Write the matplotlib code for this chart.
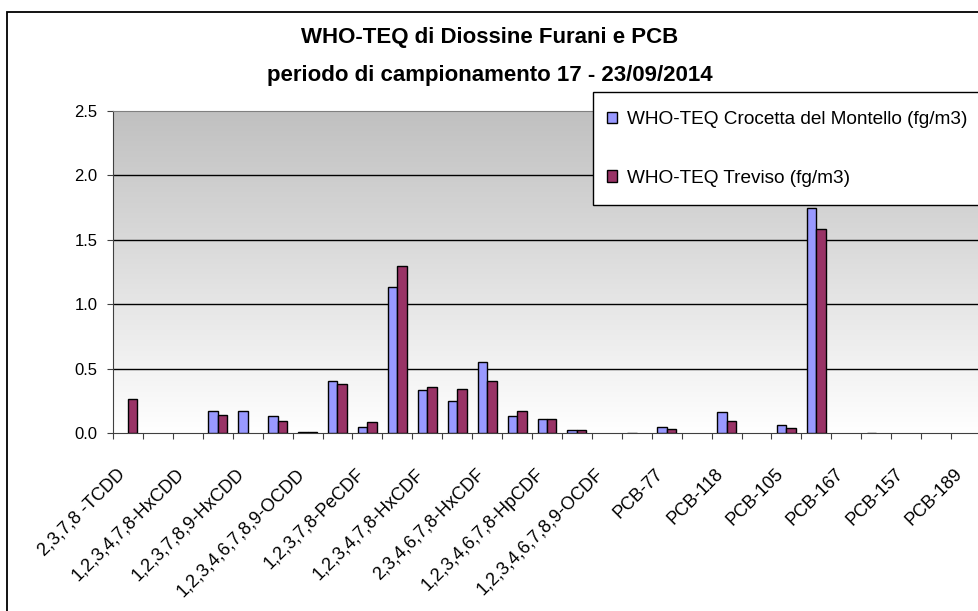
import numpy as np
import matplotlib
matplotlib.use('Agg')
import matplotlib.pyplot as plt
from matplotlib.colors import LinearSegmentedColormap
from matplotlib.patches import Rectangle
from matplotlib.transforms import ScaledTranslation

plt.rcParams['font.family'] = ['Liberation Sans', 'DejaVu Sans']

# congeneri (29), in Excel solo una etichetta su due e' visibile
congeners = ['2,3,7,8 -TCDD', '1,2,3,7,8-PeCDD', '1,2,3,4,7,8-HxCDD', '1,2,3,6,7,8-HxCDD',
             '1,2,3,7,8,9-HxCDD', '1,2,3,4,6,7,8-HpCDD', '1,2,3,4,6,7,8,9-OCDD',
             '2,3,7,8-TCDF', '1,2,3,7,8-PeCDF', '2,3,4,7,8-PeCDF', '1,2,3,4,7,8-HxCDF',
             '1,2,3,6,7,8-HxCDF', '2,3,4,6,7,8-HxCDF', '1,2,3,7,8,9-HxCDF',
             '1,2,3,4,6,7,8-HpCDF', '1,2,3,4,7,8,9-HpCDF', '1,2,3,4,6,7,8,9-OCDF',
             'PCB-81', 'PCB-77', 'PCB-123', 'PCB-118', 'PCB-114', 'PCB-105', 'PCB-126',
             'PCB-167', 'PCB-156', 'PCB-157', 'PCB-169', 'PCB-189']

nan = np.nan
crocetta = [nan, nan, nan, 0.17, 0.17, 0.134, 0.012, 0.406, 0.05, 1.134,
            0.334, 0.253, 0.556, 0.134, 0.109, 0.025, nan, 0.005, 0.052, nan,
            0.168, nan, 0.062, 1.747, nan, 0.005, nan, nan, nan]
treviso = [0.264, nan, nan, 0.145, nan, 0.098, 0.012, 0.383, 0.088, 1.301,
           0.357, 0.344, 0.406, 0.171, 0.109, 0.025, nan, nan, 0.031, nan,
           0.098, nan, 0.044, 1.584, nan, nan, nan, nan, nan]

lab_croc = 'WHO-TEQ Crocetta del Montello (fg/m3)'
lab_trev = 'WHO-TEQ Treviso (fg/m3)'

W, H = 979, 611
fig = plt.figure(figsize=(W/100., H/100.), dpi=100)
fig.patch.set_facecolor('white')

# bordo esterno del grafico
fig.patches.append(Rectangle((7./W, -0.1), 1.0, 1.1 - 12./H, transform=fig.transFigure,
                             facecolor='none', edgecolor='black', lw=1.3, zorder=0))

ax = fig.add_axes([113./W, (H-433.3)/H, 868./W, 322.3/H])

# sfondo sfumato
cmap = LinearSegmentedColormap.from_list('grad', ['#ffffff', '#c0c0c0'])
ax.imshow(np.linspace(1, 0, 256).reshape(-1, 1), extent=[0, 1, 0, 1], transform=ax.transAxes,
          cmap=cmap, aspect='auto', zorder=0, interpolation='bilinear')

ind = np.arange(len(congeners))
w = 0.317
ax.bar(ind - w/2, crocetta, w, color='#9999ff', edgecolor='black', lw=1, label=lab_croc, zorder=3)
ax.bar(ind + w/2, treviso, w, color='#993366', edgecolor='black', lw=1, label=lab_trev, zorder=3)

ax.set_xlim(-0.5, len(congeners) - 0.5)
ax.set_ylim(0, 2.5)
ax.set_yticks([0, 0.5, 1.0, 1.5, 2.0, 2.5])
ax.set_yticklabels(['0.0', '0.5', '1.0', '1.5', '2.0', '2.5'], fontsize=12)
for y in [0.5, 1.0, 1.5, 2.0]:
    ax.axhline(y, color='black', lw=1, zorder=1)

ax.set_xticks(np.arange(-0.5, len(congeners), 1))
ax.set_xticklabels([])
ax.set_xticks(ind, minor=True)
shown = [c if i % 2 == 0 else '' for i, c in enumerate(congeners)]
ax.set_xticklabels(shown, minor=True, rotation=45, ha='right', va='top',
                   rotation_mode='anchor', fontsize=13)
ax.tick_params(axis='x', which='minor', length=0, pad=23)
ax.tick_params(axis='x', which='major', direction='out', length=4, color='#404040')
ax.tick_params(axis='y', direction='out', length=4, color='#404040', pad=7)
shift = ScaledTranslation(-0.12, 0, fig.dpi_scale_trans)
for t in ax.get_xticklabels(minor=True):
    t.set_transform(t.get_transform() + shift)

ax.spines['right'].set_visible(False)
ax.spines['top'].set_color('#808080')
ax.spines['left'].set_color('#404040')
ax.spines['bottom'].set_color('#404040')

fig.text(490./W, 1 - 38./H, 'WHO-TEQ di Diossine Furani e PCB', ha='center', va='center',
         fontsize=16, fontweight='bold')
fig.text(490./W, 1 - 75./H, 'periodo di campionamento 17 - 23/09/2014', ha='center', va='center',
         fontsize=16, fontweight='bold')

# legenda
fig.patches.append(Rectangle((593./W, 1 - 205./H), 1.0, 113.3/H, transform=fig.transFigure,
                             facecolor='white', edgecolor='black', lw=1, zorder=5))
leg = fig.legend(loc='upper left', bbox_to_anchor=(607./W, 1 - 111./H), frameon=False,
                 fontsize=13.7, handlelength=0.55, handleheight=0.55, handletextpad=0.5,
                 labelspacing=2.2, borderpad=0, borderaxespad=0)
leg.set_zorder(6)

fig.savefig('out.png', dpi=100)
